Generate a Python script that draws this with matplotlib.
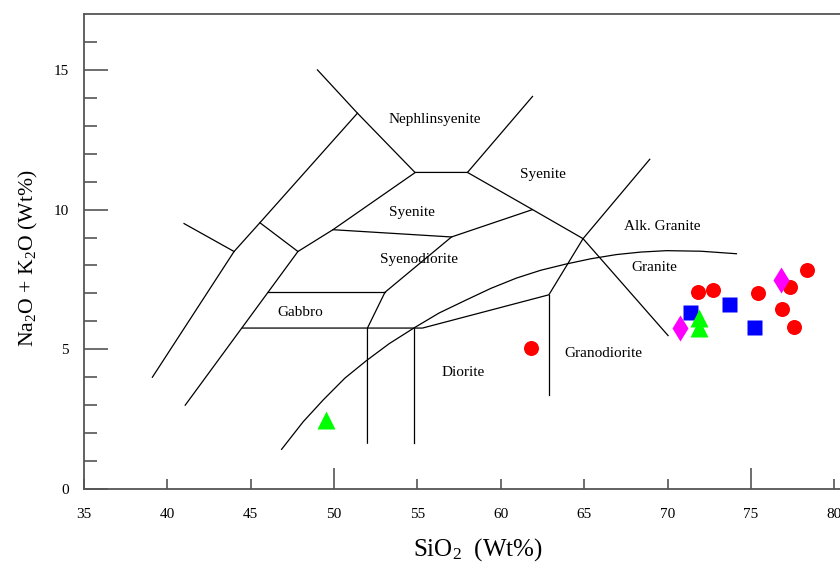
import matplotlib
matplotlib.use("Agg")
import matplotlib.pyplot as plt

plt.rcParams['font.family'] = ['Liberation Serif', 'DejaVu Serif']
plt.rcParams['mathtext.fontset'] = 'custom'
plt.rcParams['mathtext.rm'] = 'Liberation Serif'
plt.rcParams['mathtext.it'] = 'Liberation Serif:italic'

# ---- field boundaries (SiO2, Na2O+K2O) ----
boundaries = [
    [(49.0, 15.0), (51.4, 13.45), (54.85, 11.33)],
    [(51.4, 13.45), (45.55, 9.53), (44.0, 8.5), (39.1, 4.0)],
    [(41.0, 9.5), (44.0, 8.5)],
    [(45.55, 9.53), (47.83, 8.5), (41.07, 3.0)],
    [(47.83, 8.5), (49.93, 9.28), (54.87, 11.33), (58.0, 11.33), (61.9, 14.05)],
    [(58.0, 11.33), (61.9, 10.0), (64.93, 8.96), (70.03, 5.49)],
    [(49.93, 9.28), (57.04, 9.02), (61.9, 10.0)],
    [(57.04, 9.02), (53.05, 7.04), (52.0, 5.76), (52.0, 1.64)],
    [(46.05, 7.04), (53.05, 7.04)],
    [(44.5, 5.76), (55.3, 5.76), (62.88, 6.95), (64.93, 8.96), (68.93, 11.8)],
    [(54.8, 5.76), (54.8, 1.64)],
    [(62.88, 6.95), (62.88, 3.37)],
]

curve_x = [46.85, 48.15, 49.35, 50.65, 51.95, 53.3, 54.78, 56.3, 57.94, 59.4, 60.94, 62.4,
           63.9, 65.4, 66.93, 68.4, 69.93, 72.0, 74.13]
curve_y = [1.42, 2.41, 3.19, 3.97, 4.6, 5.2, 5.76, 6.3, 6.77, 7.18, 7.55, 7.83,
           8.05, 8.24, 8.39, 8.48, 8.53, 8.51, 8.42]

field_names = ['Nephlinsyenite', 'Syenite', 'Syenite', 'Syenodiorite', 'Gabbro',
               'Alk. Granite', 'Granite', 'Granodiorite', 'Diorite']
field_x = [56.04, 62.5, 54.65, 55.1, 47.99, 69.67, 69.19, 66.17, 57.74]
field_y = [13.23, 11.25, 9.88, 8.23, 6.3, 9.38, 7.91, 4.86, 4.18]

# ---- samples ----
circle_x = [71.83, 72.73, 75.45, 78.37, 77.33, 76.85, 77.58, 61.78]
circle_y = [7.04, 7.13, 7.0, 7.85, 7.22, 6.46, 5.81, 5.04]
square_x = [71.37, 73.69, 75.2]
square_y = [6.33, 6.63, 5.81]
triangle_x = [71.87, 71.87, 49.49]
triangle_y = [6.12, 5.76, 2.47]
diamond_x = [70.77, 76.81]
diamond_y = [5.78, 7.48]

xticks_major = [50, 75]
xticks_minor = [35, 40, 45, 55, 60, 65, 70, 80]
yticks_major = [0, 5, 10, 15]
yticks_minor = list(range(1, 17))

fig = plt.figure(figsize=(8.4, 5.64), dpi=100)
ax = fig.add_axes([84/840, 75/564, 767/840, 475/564])
ax.set_xlim(35, 81)
ax.set_ylim(0, 17)

for seg in boundaries:
    xs = [p[0] for p in seg]
    ys = [p[1] for p in seg]
    ax.plot(xs, ys, color='black', lw=0.9, solid_joinstyle='miter')
ax.plot(curve_x, curve_y, color='black', lw=0.9)

for name, x, y in zip(field_names, field_x, field_y):
    ax.text(x, y, name, ha='center', va='center', fontsize=11)

ax.plot(circle_x, circle_y, 'o', color='#ff0000', ms=10.8, mec='none')
ax.plot(square_x, square_y, 's', color='#0000ff', ms=10.8, mec='none')
ax.plot(triangle_x, triangle_y, '^', color='#00ff00', ms=12.5, mec='none')
ax.plot(diamond_x, diamond_y, 'd', color='#ff00ff', ms=13.5, mec='none')

for s in ['left', 'top', 'bottom']:
    ax.spines[s].set_color('#555555')
    ax.spines[s].set_linewidth(1.3)
ax.spines['right'].set_visible(False)

ax.set_xticks(xticks_major)
ax.set_xticklabels([str(v) for v in xticks_major])
ax.set_xticks(xticks_minor, minor=True)
ax.set_xticklabels([str(v) for v in xticks_minor], minor=True)
ax.set_yticks(yticks_major)
ax.set_yticklabels([str(v) for v in yticks_major])
ax.set_yticks(yticks_minor, minor=True)

ax.tick_params(axis='x', which='major', direction='in', length=15, width=1.2,
               color='#555555', pad=14, labelsize=11)
ax.tick_params(axis='x', which='minor', direction='in', length=7.5, width=1.2,
               color='#555555', pad=14, labelsize=11)
ax.tick_params(axis='y', which='major', direction='in', length=17, width=1.2,
               color='#555555', pad=11, labelsize=11)
ax.tick_params(axis='y', which='minor', direction='in', length=9, width=1.2,
               color='#555555')
ax.tick_params(top=False, right=False)

ax.set_xlabel('SiO$_2$  (Wt%)', fontsize=18)
ax.xaxis.set_label_coords(0.514, -0.100)
ax.set_ylabel('Na$_2$O + K$_2$O (Wt%)', fontsize=15.7)
ax.yaxis.set_label_coords(-0.057, 0.486)

fig.savefig('out.png', dpi=100)
